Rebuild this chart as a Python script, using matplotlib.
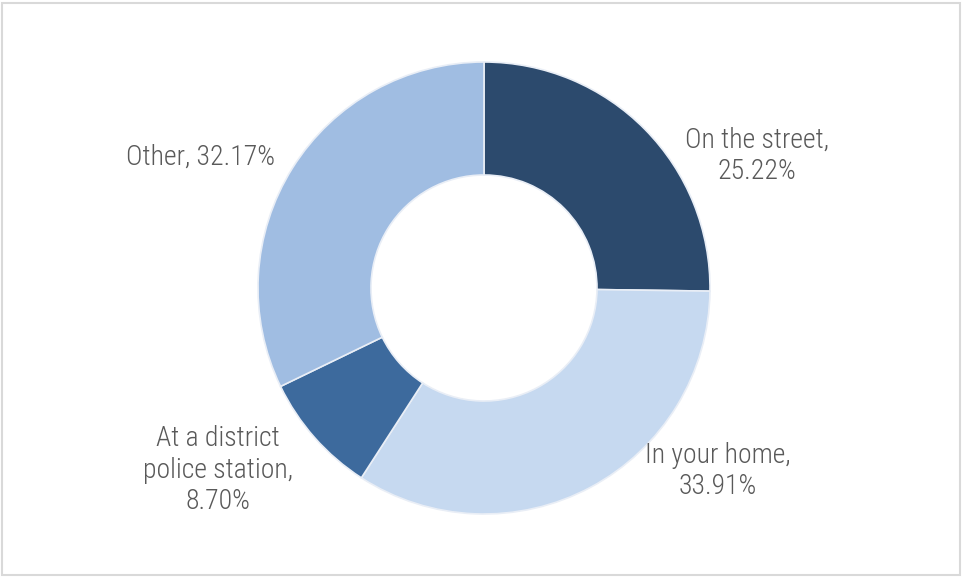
import matplotlib
matplotlib.use('Agg')
import matplotlib.pyplot as plt
from matplotlib.patches import Rectangle

plt.rcParams['font.family'] = ['Roboto Condensed', 'Roboto', 'DejaVu Sans']

# data
locations = ['On the street', 'In your home', 'At a district\npolice station', 'Other']
shares = [25.22, 33.91, 8.70, 32.17]
colors = ['#2c4a6d', '#c6d9f0', '#3d6a9d', '#a0bde2']

# label placement (pixel coords, origin top-left) and separator between name and value
label_pos = [(757, 156), (718, 471), (218, 470), (200, 157)]
label_sep = [',\n', ',\n', ',\n', ', ']

W, H = 963, 577
fig = plt.figure(figsize=(W / 100, H / 100), dpi=100)
ax = fig.add_axes([0, 0, 1, 1])

# outer frame
fig.patches.append(Rectangle((2, 2), W - 5, H - 5, transform=None,
                             fill=False, edgecolor='#d9d9d9', linewidth=1.5))

cx, cy = 484, H - 288
R = 226
wedges, _ = ax.pie(shares, colors=colors, startangle=90, counterclock=False,
                   center=(cx, cy), radius=R, frame=True,
                   wedgeprops=dict(width=R * 0.5, edgecolor='#e9eef6', linewidth=1.2))
ax.set_xlim(0, W)
ax.set_ylim(0, H)
ax.set_aspect('equal')
ax.axis('off')

for name, val, sep, (px, py) in zip(locations, shares, label_sep, label_pos):
    ax.text(px, H - py, f'{name}{sep}{val:.2f}%', ha='center', va='center',
            fontsize=20, color='#595959', linespacing=1.22,
            fontweight='light', fontstretch='condensed')

fig.savefig('out.png', dpi=100)
